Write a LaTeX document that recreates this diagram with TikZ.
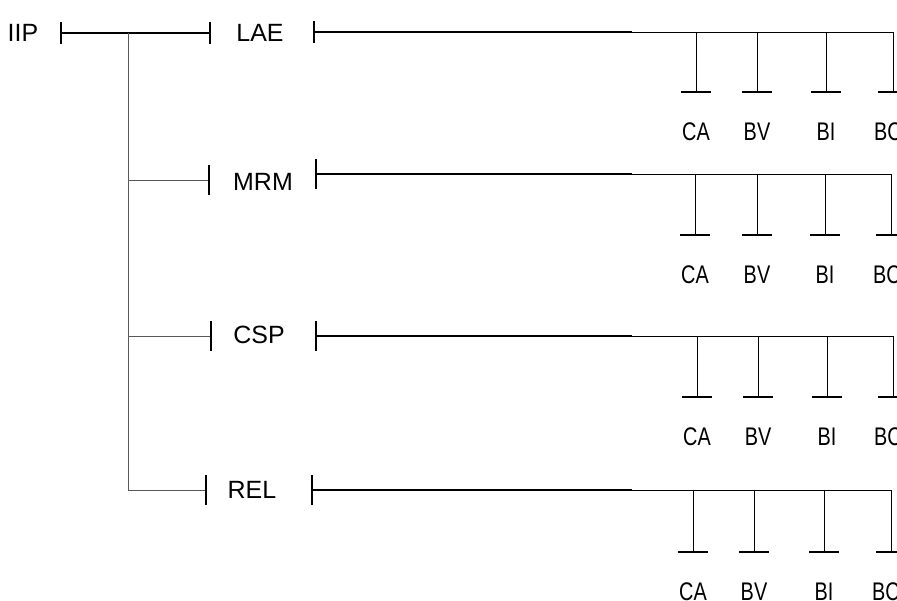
\documentclass[tikz,border=0pt]{standalone}
\usepackage{fontspec}
\setmainfont{Liberation Sans}
\newfontfamily\narrowfont[FakeStretch=0.78]{Liberation Sans}
\usetikzlibrary{arrows.meta}

\tikzset{
  smallbar/.tip={Bar[width=0.44cm,line width=0.9pt,color=black]},
  bigbar/.tip={Bar[width=0.6cm,line width=0.9pt,color=black]},
  lbl/.style={font=\fontsize{14.2}{17}\selectfont,inner sep=0pt},
  sub/.style={font=\narrowfont\fontsize{14.5}{17}\selectfont,inner sep=0pt},
  thickln/.style={line width=0.9pt},
  thinln/.style={line width=0.5pt},
  trunkln/.style={line width=0.5pt,black!65}
}

\begin{document}
\begin{tikzpicture}[x=0.02cm,y=-0.02cm]
\useasboundingbox (0,0) rectangle (897,601);
\node[lbl](iip) at (23,33) {IIP};
\node[lbl](lae) at (260,33) {LAE};
\node[lbl](mrm) at (263,182) {MRM};
\node[lbl](csp) at (259,335) {CSP};
\node[lbl](rel) at (252,490) {REL};
\coordinate(iipR) at (60,33);
\coordinate(laeL) at (211,33);
\coordinate(fork) at (128,33);
\coordinate(mrmB) at (128,180);
\coordinate(mrmL) at (210,180);
\coordinate(cspB) at (128,336);
\coordinate(cspL) at (212,336);
\coordinate(relB) at (128,490);
\coordinate(relL) at (207,490);
\coordinate(laeR) at (313,32);
\coordinate(laeM) at (632,32);
\coordinate(laeT) at (893,93);
\coordinate(mrmR) at (315,174);
\coordinate(mrmM) at (632,174);
\coordinate(mrmT) at (891,236);
\coordinate(cspR) at (315,336);
\coordinate(cspM) at (632,336);
\coordinate(cspT) at (893,398);
\coordinate(relR) at (311,490);
\coordinate(relM) at (632,490);
\coordinate(relT) at (891,553);
\node[sub](laeCA) at (696,132) {CA};
\node[sub](laeBV) at (757,132) {BV};
\node[sub](laeBI) at (826,132) {BI};
\node[sub](laeBC) at (888,132) {BC};
\node[sub](mrmCA) at (695,275) {CA};
\node[sub](mrmBV) at (757,275) {BV};
\node[sub](mrmBI) at (825,275) {BI};
\node[sub](mrmBC) at (887,275) {BC};
\node[sub](cspCA) at (697,437) {CA};
\node[sub](cspBV) at (758,437) {BV};
\node[sub](cspBI) at (827,437) {BI};
\node[sub](cspBC) at (888,437) {BC};
\node[sub](relCA) at (693,592) {CA};
\node[sub](relBV) at (754,592) {BV};
\node[sub](relBI) at (824,592) {BI};
\node[sub](relBC) at (886,592) {BC};
\draw[thickln,smallbar-smallbar](iipR)--(laeL);
\draw[trunkln](fork)--(relB);
\draw[trunkln,-bigbar](mrmB)--(mrmL);
\draw[trunkln,-bigbar](cspB)--(cspL);
\draw[trunkln,-bigbar](relB)--(relL);
\draw[thickln,smallbar-](laeR)--(laeM);
\draw[thickln,bigbar-](mrmR)--(mrmM);
\draw[thickln,bigbar-](cspR)--(cspM);
\draw[thickln,bigbar-](relR)--(relM);
\draw[thinln,-bigbar](laeM)-|(laeT);
\draw[thinln,-bigbar](mrmM)-|(mrmT);
\draw[thinln,-bigbar](cspM)-|(cspT);
\draw[thinln,-bigbar](relM)-|(relT);
\draw[thinln,-bigbar](laeCA|-laeM)--(laeCA|-laeT);
\draw[thinln,-bigbar](laeBV|-laeM)--(laeBV|-laeT);
\draw[thinln,-bigbar](laeBI|-laeM)--(laeBI|-laeT);
\draw[thinln,-bigbar](mrmCA|-mrmM)--(mrmCA|-mrmT);
\draw[thinln,-bigbar](mrmBV|-mrmM)--(mrmBV|-mrmT);
\draw[thinln,-bigbar](mrmBI|-mrmM)--(mrmBI|-mrmT);
\draw[thinln,-bigbar](cspCA|-cspM)--(cspCA|-cspT);
\draw[thinln,-bigbar](cspBV|-cspM)--(cspBV|-cspT);
\draw[thinln,-bigbar](cspBI|-cspM)--(cspBI|-cspT);
\draw[thinln,-bigbar](relCA|-relM)--(relCA|-relT);
\draw[thinln,-bigbar](relBV|-relM)--(relBV|-relT);
\draw[thinln,-bigbar](relBI|-relM)--(relBI|-relT);
\end{tikzpicture}
\end{document}
